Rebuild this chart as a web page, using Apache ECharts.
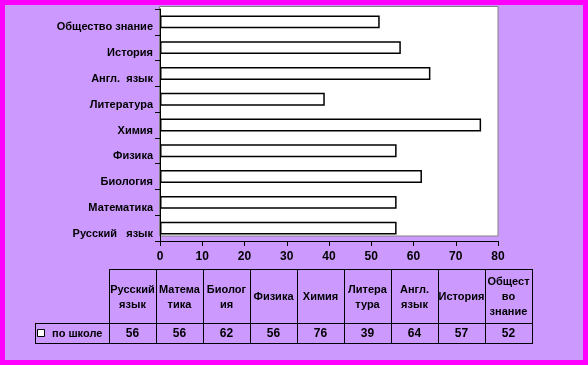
<!DOCTYPE html>
<html><head><meta charset="utf-8">
<script src="https://cdn.jsdelivr.net/npm/echarts@6/dist/echarts.min.js"></script>
<style>
html,body{margin:0;padding:0;background:#CC99FF}
#c{position:absolute;left:0;top:0;width:588px;height:365px}
#f{position:absolute;left:0;top:0;width:588px;height:365px;border:5px solid #FF00FF;box-sizing:border-box;pointer-events:none}
</style></head><body>
<div id="c"></div><div id="f"></div>
<script>
// ---- data ----
const categories = ['Русский   язык','Математика','Биология','Физика','Химия','Литература','Англ.  язык','История','Общество знание'];
const tableHeaders = ['Русский\nязык','Матема\nтика','Биолог\nия','Физика','Химия','Литера\nтура','Англ.\nязык','История','Общест\nво\nзнание'];
const seriesName = 'по школе';
const values = [56,56,62,56,76,39,64,57,52];
const xMin = 0, xMax = 80, xInterval = 10;

// ---- layout ----
const FONT = '"Liberation Sans",Arial,sans-serif';
const tbl = {left:109, colW:47, top:269, headH:54, rowH:20, keyLeft:35};

const chart = echarts.init(document.getElementById('c'), null, {renderer:'canvas'});

const g = [];
// plot area background
g.push({type:'rect', z:-5, shape:{x:159.5,y:6.5,width:338.5,height:229.5}, style:{fill:'#fff',stroke:'#808080',lineWidth:1}});
// table
const tRight = tbl.left + tbl.colW*tableHeaders.length;
const yMid = tbl.top + tbl.headH, yBot = yMid + tbl.rowH;
const L = (x1,y1,x2,y2)=>g.push({type:'line', shape:{x1,y1,x2,y2}, style:{stroke:'#000',lineWidth:1}});
L(tbl.left, tbl.top+0.5, tRight, tbl.top+0.5);
L(tbl.keyLeft, yMid+0.5, tRight, yMid+0.5);
L(tbl.keyLeft, yBot+0.5, tRight, yBot+0.5);
L(tbl.keyLeft+0.5, yMid, tbl.keyLeft+0.5, yBot+1);
for (let i=0;i<=tableHeaders.length;i++){
  const x = tbl.left + tbl.colW*i + 0.5;
  L(x, tbl.top, x, yBot+1);
}
tableHeaders.forEach((h,i)=>{
  const cx = tbl.left + tbl.colW*(i+0.5);
  g.push({type:'text', x:cx, y:tbl.top+tbl.headH/2+1, style:{text:h, font:'bold 11px '+FONT, fill:'#000', align:'center', verticalAlign:'middle', lineHeight:15}});
  g.push({type:'text', x:cx, y:yMid+tbl.rowH/2+1, style:{text:String(values[i]), font:'bold 12px '+FONT, fill:'#000', align:'center', verticalAlign:'middle'}});
});
// legend key
g.push({type:'rect', shape:{x:37.5,y:329.5,width:7,height:7}, style:{fill:'#fff',stroke:'#000',lineWidth:1}});
g.push({type:'text', x:52, y:yMid+tbl.rowH/2+1, style:{text:seriesName, font:'bold 11px '+FONT, fill:'#000', align:'left', verticalAlign:'middle'}});

chart.setOption({
  backgroundColor:'#CC99FF',
  animation:false,
  grid:{left:160, right:90, top:9, bottom:124, show:false},
  xAxis:{type:'value', min:xMin, max:xMax, interval:xInterval,
    axisLine:{show:true, lineStyle:{color:'#000', width:1}},
    axisTick:{show:true, length:5, lineStyle:{color:'#000'}},
    splitLine:{show:false},
    axisLabel:{margin:10, color:'#000', fontWeight:'bold', fontSize:12, fontFamily:FONT}},
  yAxis:{type:'category', data:categories,
    axisLine:{show:true, lineStyle:{color:'#000', width:1}},
    axisTick:{show:true, length:5, alignWithLabel:false, lineStyle:{color:'#000'}},
    splitLine:{show:false},
    axisLabel:{margin:7, color:'#000', fontWeight:'bold', fontSize:11, fontFamily:FONT, verticalAlign:'top', lineHeight:11}},
  series:[{type:'bar', name:seriesName, data:values, barWidth:'50%',
    itemStyle:{color:'#fff', borderColor:'#000', borderWidth:1.5}}],
  graphic:{elements:g}
});
</script>
</body></html>
